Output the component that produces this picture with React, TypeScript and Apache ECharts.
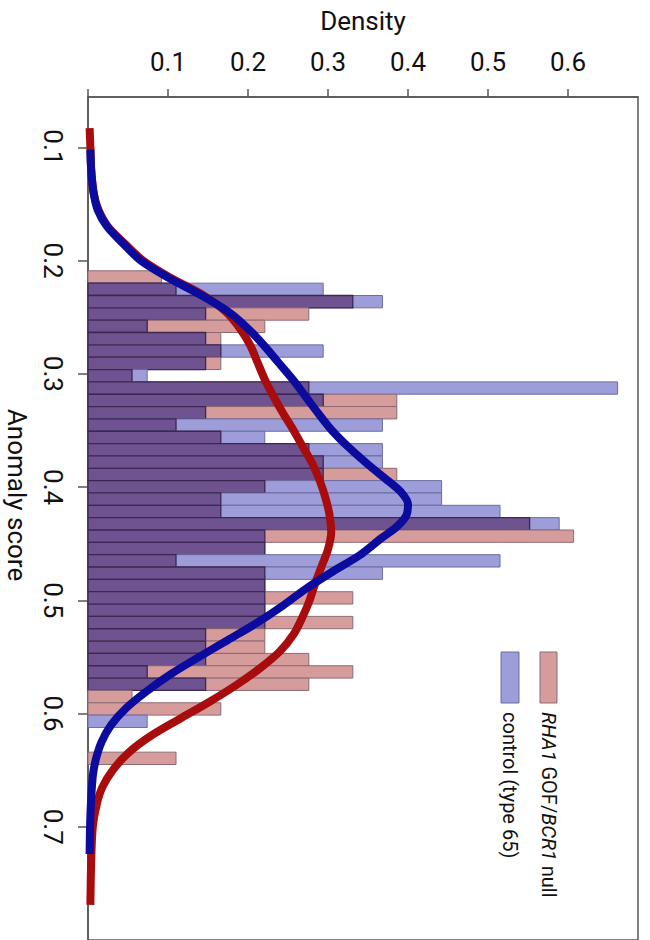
import React, { useEffect, useRef } from "react";
import * as echarts from "echarts";

// ---- data ----
const densityTicks = [0.1, 0.2, 0.3, 0.4, 0.5, 0.6];
const densityTickMarks = [0, 0.1, 0.2, 0.3, 0.4, 0.5, 0.6];
const scoreTicks = [0.1, 0.2, 0.3, 0.4, 0.5, 0.6, 0.7];

// histogram bin edges (anomaly score)
const binEdges = [
  0.209, 0.2199, 0.2308, 0.2417, 0.2526, 0.2635, 0.2744, 0.2853, 0.2962, 0.3071,
  0.318, 0.3289, 0.3398, 0.3507, 0.3616, 0.3725, 0.3834, 0.3943, 0.4052, 0.4161,
  0.427, 0.4379, 0.4488, 0.4597, 0.4706, 0.4815, 0.4924, 0.5033, 0.5142, 0.5251,
  0.536, 0.5469, 0.5578, 0.5687, 0.5796, 0.5905, 0.6014, 0.6123, 0.6232, 0.6341,
  0.645,
];

// RHA1 GOF/BCR1 null histogram density
const rhaDensity = [
  0.092, 0.11, 0.331, 0.276, 0.221, 0.166, 0.166, 0.166, 0.055, 0.276,
  0.386, 0.386, 0.11, 0.166, 0.276, 0.294, 0.386, 0.221, 0.166, 0.166,
  0.552, 0.607, 0.221, 0.11, 0.221, 0.221, 0.331, 0.221, 0.331, 0.221,
  0.221, 0.276, 0.331, 0.276, 0.055, 0.166, 0, 0, 0, 0.11,
];

// control (type 65) histogram density
const controlDensity = [
  0, 0.294, 0.368, 0.147, 0.074, 0.147, 0.294, 0.147, 0.074, 0.662,
  0.294, 0.147, 0.368, 0.221, 0.368, 0.368, 0.294, 0.442, 0.442, 0.515,
  0.589, 0.221, 0.221, 0.515, 0.368, 0.221, 0.221, 0.221, 0.221, 0.147,
  0.147, 0.147, 0.074, 0.147, 0, 0, 0.074, 0, 0, 0,
];

// kernel density curves
const rhaCurveScore = [
  0.083, 0.1, 0.12, 0.14, 0.155, 0.17, 0.185, 0.2, 0.215, 0.23,
  0.245, 0.26, 0.275, 0.29, 0.305, 0.32, 0.335, 0.35, 0.365, 0.38,
  0.395, 0.41, 0.425, 0.44, 0.455, 0.47, 0.485, 0.5, 0.515, 0.53,
  0.545, 0.56, 0.575, 0.59, 0.605, 0.62, 0.635, 0.65, 0.665, 0.68,
  0.7, 0.73, 0.769,
];
const rhaCurveDensity = [
  0.002, 0.003, 0.004, 0.007, 0.013, 0.025, 0.046, 0.069, 0.103, 0.143,
  0.172, 0.19, 0.203, 0.212, 0.221, 0.232, 0.244, 0.257, 0.269, 0.281,
  0.29, 0.297, 0.302, 0.304, 0.3, 0.292, 0.284, 0.277, 0.268, 0.257,
  0.24, 0.215, 0.185, 0.151, 0.114, 0.078, 0.05, 0.031, 0.018, 0.011,
  0.006, 0.004, 0.003,
];

const controlCurveScore = [
  0.102, 0.12, 0.14, 0.155, 0.17, 0.185, 0.2, 0.215, 0.23, 0.245,
  0.26, 0.275, 0.29, 0.305, 0.32, 0.335, 0.35, 0.365, 0.38, 0.395,
  0.405, 0.415, 0.425, 0.435, 0.445, 0.46, 0.475, 0.49, 0.505, 0.52,
  0.535, 0.55, 0.565, 0.58, 0.595, 0.61, 0.625, 0.64, 0.655, 0.69,
  0.724,
];
const controlCurveDensity = [
  0.003, 0.004, 0.007, 0.012, 0.024, 0.044, 0.066, 0.1, 0.14, 0.175,
  0.2, 0.22, 0.238, 0.256, 0.272, 0.288, 0.305, 0.326, 0.35, 0.376,
  0.392, 0.4, 0.398, 0.386, 0.367, 0.34, 0.305, 0.272, 0.243, 0.211,
  0.175, 0.139, 0.104, 0.074, 0.048, 0.029, 0.017, 0.01, 0.006, 0.003,
  0.002,
];

const legendLabels = ["{i|RHA1} GOF/{i|BCR1} null", "control (type 65)"];

// ---- styles ----
const PINK = "#d69c9c";
const LIGHTBLUE = "#9d9dd9";
const PURPLE = "#6f5391";
const RED_LINE = "#a80c0c";
const BLUE_LINE = "#0b0b9e";
const FONT = "Roboto";

export default function App() {
  const ref = useRef<HTMLDivElement>(null);

  useEffect(() => {
    if (!ref.current) return;
    const chart = echarts.init(ref.current, undefined, { renderer: "svg" });

    const histData = rhaDensity.map((r, i) => [
      binEdges[i],
      binEdges[i + 1],
      r,
      controlDensity[i],
    ]);

    const rhaLine = rhaCurveScore.map((s, i) => [rhaCurveDensity[i], s]);
    const controlLine = controlCurveScore.map((s, i) => [controlCurveDensity[i], s]);

    const option: any = {
      animation: false,
      backgroundColor: "#ffffff",
      grid: {
        left: 88,
        right: 12,
        top: 97,
        bottom: -4,
        show: true,
        borderColor: "#555",
        borderWidth: 1.5,
        backgroundColor: "transparent",
      },
      xAxis: {
        type: "value",
        position: "top",
        min: 0,
        max: 0.6875,
        name: "Density",
        nameLocation: "middle",
        nameGap: 63,
        nameTextStyle: { fontFamily: FONT, fontSize: 26, color: "#111" },
        axisLine: { show: true, lineStyle: { color: "#555", width: 1.5 } },
        axisTick: {
          show: true,
          length: 8,
          customValues: densityTickMarks,
          lineStyle: { color: "#555", width: 1.5 },
        },
        axisLabel: {
          customValues: densityTicks,
          margin: 22,
          fontFamily: FONT,
          fontSize: 26,
          color: "#111",
        },
        splitLine: { show: false },
      },
      yAxis: {
        type: "value",
        inverse: true,
        min: 0.0555,
        max: 0.8,
        axisLine: { show: true, lineStyle: { color: "#555", width: 1.5 } },
        axisTick: {
          show: true,
          length: 10,
          customValues: scoreTicks,
          lineStyle: { color: "#555", width: 1.5 },
        },
        axisLabel: {
          customValues: scoreTicks,
          rotate: -90,
          margin: 22,
          fontFamily: FONT,
          fontSize: 26,
          color: "#111",
        },
        splitLine: { show: false },
      },
      series: [
        {
          type: "custom",
          coordinateSystem: "cartesian2d",
          encode: { x: [2, 3], y: [0, 1] },
          data: histData,
          z: 1,
          renderItem: (params: any, api: any) => {
            const lo = api.value(0);
            const hi = api.value(1);
            const r = api.value(2);
            const b = api.value(3);
            const mx = Math.max(r, b);
            const mn = Math.min(r, b);
            const a = api.coord([0, lo]);
            const children: any[] = [];
            if (mx > 0) {
              const c = api.coord([mx, hi]);
              children.push({
                type: "rect",
                shape: { x: a[0], y: a[1], width: c[0] - a[0], height: c[1] - a[1] },
                style: {
                  fill: r > b ? PINK : LIGHTBLUE,
                  stroke: r > b ? "#8d6a72" : "#6c6ca0",
                  lineWidth: 1,
                },
              });
            }
            if (mn > 0) {
              const c = api.coord([mn, hi]);
              children.push({
                type: "rect",
                shape: { x: a[0], y: a[1], width: c[0] - a[0], height: c[1] - a[1] },
                style: { fill: PURPLE, stroke: "#3b2752", lineWidth: 1.3 },
              });
            }
            return { type: "group", children };
          },
        },
        {
          type: "line",
          name: "RHA1 GOF/BCR1 null",
          data: rhaLine,
          showSymbol: false,
          smooth: 0.3,
          z: 3,
          lineStyle: { color: RED_LINE, width: 8 },
        },
        {
          type: "line",
          name: "control (type 65)",
          data: controlLine,
          showSymbol: false,
          smooth: 0.3,
          z: 4,
          lineStyle: { color: BLUE_LINE, width: 8 },
        },
      ],
      graphic: [
        {
          type: "text",
          x: 17,
          y: 495,
          rotation: -Math.PI / 2,
          style: {
            text: "Anomaly score",
            fontFamily: FONT,
            fontSize: 26,
            fill: "#111",
            align: "center",
            verticalAlign: "middle",
          },
        },
        {
          type: "rect",
          shape: { x: 540, y: 652, width: 17, height: 51 },
          style: { fill: PINK, stroke: "#8d6a72", lineWidth: 1 },
        },
        {
          type: "rect",
          shape: { x: 501, y: 652, width: 18, height: 51 },
          style: { fill: LIGHTBLUE, stroke: "#6c6ca0", lineWidth: 1 },
        },
        {
          type: "text",
          x: 549,
          y: 712,
          rotation: -Math.PI / 2,
          style: {
            text: legendLabels[0],
            fontFamily: FONT,
            fontSize: 20,
            fill: "#111",
            align: "left",
            verticalAlign: "middle",
            rich: { i: { fontStyle: "italic", fontFamily: FONT, fontSize: 20, fill: "#111" } },
          },
        },
        {
          type: "text",
          x: 510,
          y: 712,
          rotation: -Math.PI / 2,
          style: {
            text: legendLabels[1],
            fontFamily: FONT,
            fontSize: 20,
            fill: "#111",
            align: "left",
            verticalAlign: "middle",
          },
        },
      ],
    };

    chart.setOption(option);
    return () => {
      chart.dispose();
    };
  }, []);

  return (
    <div
      ref={ref}
      style={{ position: "absolute", left: 0, top: 0, width: 650, height: 940, background: "#fff" }}
    />
  );
}
